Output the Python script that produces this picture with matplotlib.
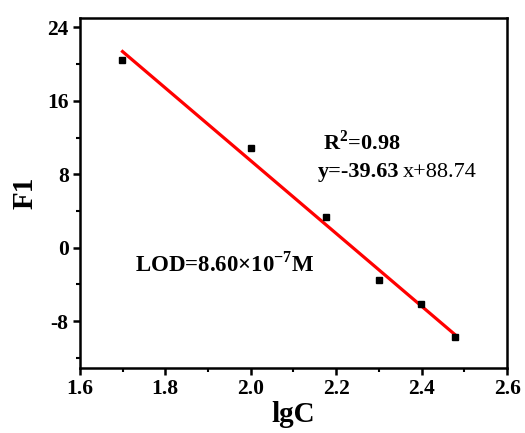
import numpy as np
import matplotlib
matplotlib.use("Agg")
import matplotlib.pyplot as plt
from matplotlib.ticker import MultipleLocator

plt.rcParams['font.family'] = ['Liberation Serif', 'DejaVu Serif']
plt.rcParams['mathtext.fontset'] = 'custom'
plt.rcParams['mathtext.rm'] = 'Liberation Serif'
plt.rcParams['mathtext.bf'] = 'Liberation Serif:bold'
plt.rcParams['axes.unicode_minus'] = False

# Data
lgc = [1.699, 2.0, 2.176, 2.301, 2.398, 2.477]
f1 = [20.5, 10.9, 3.3, -3.5, -6.1, -9.7]

# Linear fit reported on the chart
slope = -39.63
intercept = 88.74
fit_x = [1.70, 2.477]

fig = plt.figure(figsize=(5.25, 4.33), dpi=100)
ax = fig.add_axes([0.152, 0.150, 0.814, 0.808])

fit_y = [slope * x + intercept for x in fit_x]
ax.plot(fit_x, fit_y, color='#ff0000', lw=2.3, zorder=2)
ax.plot(lgc, f1, 's', color='black', ms=5, zorder=3)

ax.set_xlim(1.6, 2.6)
ax.set_ylim(-13.1, 25.0)
ax.xaxis.set_major_locator(MultipleLocator(0.2))
ax.xaxis.set_minor_locator(MultipleLocator(0.1))
ax.yaxis.set_major_locator(MultipleLocator(8))
ax.yaxis.set_minor_locator(MultipleLocator(4))
ax.set_xticks(ax.get_xticks())
ax.set_xticklabels([f"{v:.1f}" for v in ax.get_xticks()])

for s in ax.spines.values():
    s.set_linewidth(1.8)
ax.tick_params(which='major', direction='out', length=5, width=1.8,
               labelsize=15.5, top=False, right=False, pad=3)
ax.tick_params(which='minor', direction='out', length=3, width=1.5,
               top=False, right=False)
for lab in ax.get_xticklabels() + ax.get_yticklabels():
    lab.set_fontweight('bold')
ax.set_xlim(1.6, 2.6)

ax.set_xlabel('lgC', fontsize=21, fontweight='bold', labelpad=1)
ax.set_ylabel('F1', fontsize=21, fontweight='bold', labelpad=6)

ax.text(2.169, 10.7, r'R$^\mathbf{2}$=0.98', fontsize=16, fontweight='bold')
ax.text(2.157, 7.7, 'y=-39.63', fontsize=16, fontweight='bold')
ax.text(2.356, 7.7, 'x+88.74', fontsize=16)
ax.text(1.729, -2.6, r'LOD=8.60×10$^\mathbf{-7}$M', fontsize=16.5, fontweight='bold')

fig.savefig('out.png', dpi=100)
